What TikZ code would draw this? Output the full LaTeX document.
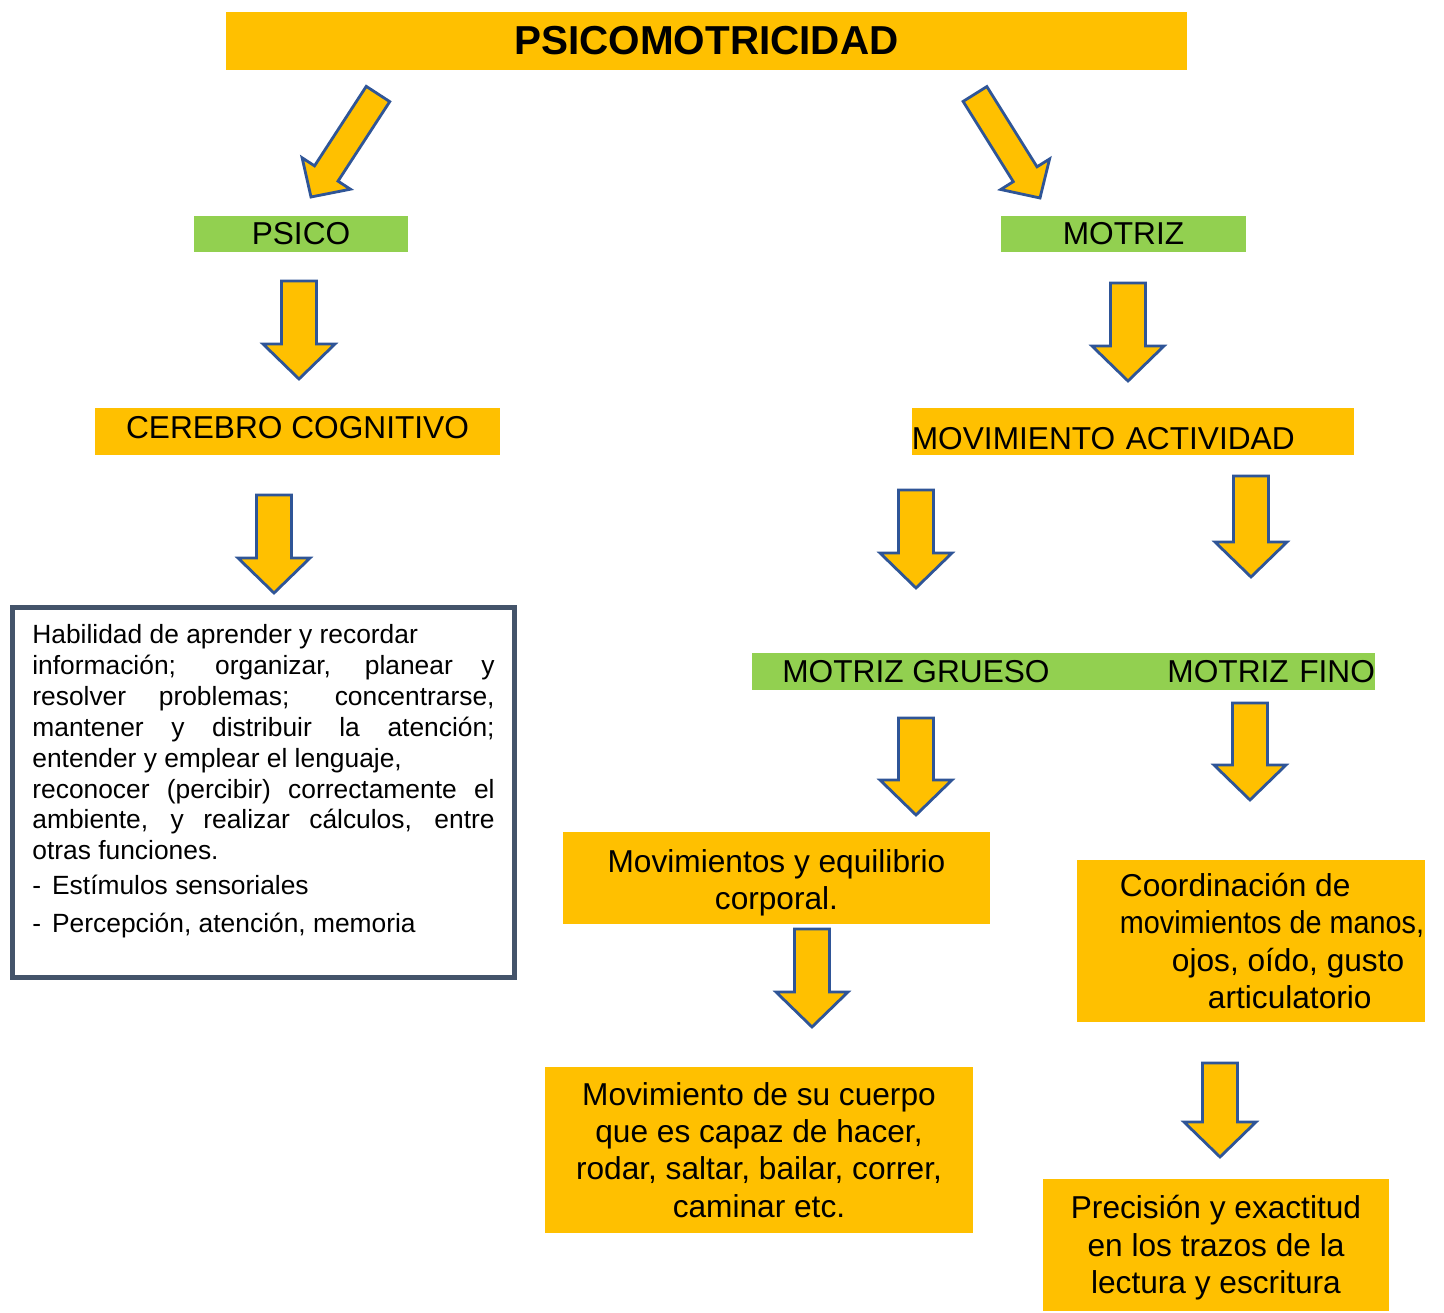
\documentclass[tikz,border=0pt]{standalone}
\usepackage{fontspec}
\setmainfont{Liberation Sans}
\usetikzlibrary{calc}

\definecolor{boxyellow}{HTML}{FFC000}
\definecolor{boxgreen}{HTML}{92D050}
\definecolor{arrowblue}{HTML}{2F5597}
\definecolor{framegray}{HTML}{44546A}

\tikzset{
  ybox/.style={fill=boxyellow, inner sep=0pt, align=center, font=\fontsize{9}{10.6}\selectfont},
  gbox/.style={fill=boxgreen, inner sep=0pt, font=\fontsize{9}{10.6}\selectfont},
  blockarrow/.style={fill=boxyellow, draw=arrowblue, line width=0.8pt, line join=miter},
}

% fat arrow from tail #2 to tip #3, #1 = size factor
\newcommand{\fatarrow}[3][1]{%
  \pgfmathsetlengthmacro\fashaft{#1*0.175cm}%
  \pgfmathsetlengthmacro\fahead{#1*0.36cm}%
  \pgfmathsetlengthmacro\falen{#1*0.35cm}%
  \coordinate (fa-neck) at ($(#3)!\falen!(#2)$);
  \draw[blockarrow] ($(#2)!\fashaft!90:(#3)$) -- ($(fa-neck)!\fashaft!90:(#3)$)
    -- ($(fa-neck)!\fahead!90:(#3)$) -- (#3) -- ($(fa-neck)!\fahead!-90:(#3)$)
    -- ($(fa-neck)!\fashaft!-90:(#3)$) -- ($(#2)!\fashaft!-90:(#3)$) -- cycle;
}

\begin{document}
\begin{tikzpicture}[x=0.01cm, y=-0.01cm]
    \useasboundingbox (0,0) rectangle (1444,1313);

    %Title
    \node[ybox, minimum width=9.61cm, minimum height=0.58cm, font=\fontsize{11.5}{13}\selectfont\bfseries] (title) at (706.5,41) {PSICOMOTRICIDAD};

    %Psico side
    \node[gbox, minimum width=2.14cm, minimum height=0.36cm] (psico) at (301,234) {PSICO};
    \node[ybox, minimum width=4.05cm, minimum height=0.47cm, text height=0.227cm, text depth=0.09cm] (cerebro) at (297.5,431.5) {CEREBRO COGNITIVO};
    \node[draw=framegray, line width=1.4pt, fill=white, minimum width=5.02cm, minimum height=3.70cm, text width=4.62cm, inner xsep=0.2cm, inner ysep=0pt, align=justify, font=\fontsize{7.5}{8.8}\selectfont] (habil) at (263.5,792.5) {%
      \setlength\parindent{0pt}\tolerance=10000 \hbadness=10000
      Habilidad de aprender y recordar\newline
      información; organizar, planear y\linebreak
      resolver problemas; concentrarse,\linebreak
      mantener y distribuir la atención;\linebreak
      entender y emplear el lenguaje,\newline
      reconocer (percibir) correctamente el\linebreak
      ambiente, y realizar cálculos, entre\linebreak
      otras funciones.\par
      \vspace{0.04cm}-\hspace{0.11cm}Estímulos sensoriales\par
      \vspace{0.07cm}-\hspace{0.11cm}Percepción, atención, memoria\rule[-0.28cm]{0pt}{0.1cm}\par};

    %Motriz side
    \node[gbox, minimum width=2.45cm, minimum height=0.36cm] (motriz) at (1123.5,234) {MOTRIZ};
    \node[ybox, minimum width=4.42cm, minimum height=0.47cm, text width=4.42cm, align=left, text height=0.357cm, text depth=0cm] (movact) at (1133,431.5) {MOVIMIENTO ACTIVIDAD};
    \node[gbox, minimum width=3.28cm, minimum height=0.37cm] (grueso) at (916,671.5) {MOTRIZ GRUESO};
    \node[gbox, minimum height=0.37cm, text width=2.95cm, align=right, anchor=west, xshift=-0.5pt] (fino) at (grueso.east) {MOTRIZ FINO};
    \node[ybox, minimum width=4.27cm, minimum height=0.92cm] (equilibrio) at (776.5,878) {\rule{0pt}{0.33cm}Movimientos y equilibrio\\corporal.};
    \node[ybox, minimum width=4.28cm, minimum height=1.66cm] (cuerpo) at (759,1150) {Movimiento de su cuerpo\\que es capaz de hacer,\\rodar, saltar, bailar, correr,\\caminar etc.};
    \node[ybox, minimum width=3.48cm, minimum height=1.62cm, align=left] (coord) at (1251,941) {\hspace*{0.42cm}Coordinación de\\\hspace*{0.42cm}\scalebox{0.91}[1]{movimientos de manos,}\\\hspace*{0.94cm}ojos, oído, gusto\\\hspace*{1.30cm}articulatorio};
    \node[ybox, minimum width=3.46cm, minimum height=1.32cm] (precision) at (1216,1245) {\rule{0pt}{0.29cm}Precisión y exactitud\\en los trazos de la\\lectura y escritura};

    %Arrows
    \coordinate (a1) at (378,94);   \coordinate (b1) at (311,197);
    \coordinate (a2) at (975,94);   \coordinate (b2) at (1040,198);
    \coordinate (a3) at (299,281);  \coordinate (b3) at (299,379);
    \coordinate (a4) at (1128,283); \coordinate (b4) at (1128,381);
    \coordinate (a5) at (274,495);  \coordinate (b5) at (274,593);
    \coordinate (a6) at (916,490);  \coordinate (b6) at (916,588);
    \coordinate (a7) at (1251,476); \coordinate (b7) at (1251,577);
    \coordinate (a8) at (916,718);  \coordinate (b8) at (916,815);
    \coordinate (a9) at (1250,703); \coordinate (b9) at (1250,800);
    \coordinate (a10) at (812,929); \coordinate (b10) at (812,1027);
    \coordinate (a11) at (1220,1063); \coordinate (b11) at (1220,1157);

    \fatarrow[0.8]{a1}{b1}
    \fatarrow[0.8]{a2}{b2}
    \fatarrow{a3}{b3}
    \fatarrow{a4}{b4}
    \fatarrow{a5}{b5}
    \fatarrow{a6}{b6}
    \fatarrow{a7}{b7}
    \fatarrow{a8}{b8}
    \fatarrow{a9}{b9}
    \fatarrow{a10}{b10}
    \fatarrow{a11}{b11}

\end{tikzpicture}
\end{document}
